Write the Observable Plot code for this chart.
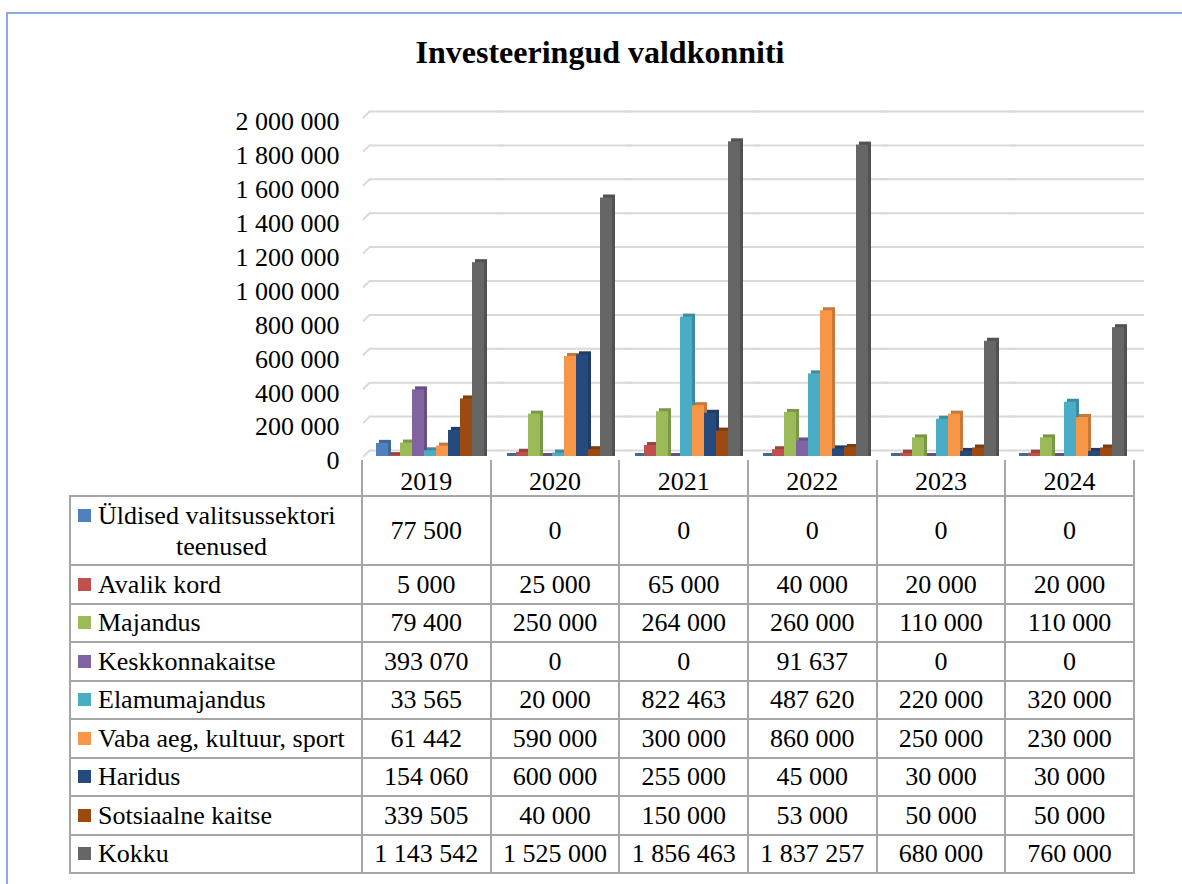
<!DOCTYPE html>
<html>
<head>
<meta charset="utf-8">
<script src="https://cdn.jsdelivr.net/npm/d3@7"></script>
<script src="https://cdn.jsdelivr.net/npm/@observablehq/plot@0.6"></script>
<style>
  html, body { margin: 0; padding: 0; background: #fff; width: 1182px; height: 884px; overflow: hidden; }
  body { position: relative; font-family: "Liberation Serif", "Times New Roman", serif; color: #000; }
  #frame { position: absolute; left: 6px; top: 12px; width: 1300px; height: 1000px;
           border-top: 2px solid #8eaadc; border-left: 2px solid #8eaadc; }
  #title { position: absolute; left: 0; top: 34px; width: 1200px; text-align: center;
           font-weight: bold; font-size: 32px; line-height: 36px; }
  #chart { position: absolute; left: 0; top: 90px; }
  #tbl { position: absolute; left: 69px; top: 460px; border-collapse: collapse; table-layout: fixed;
         font-family: "Liberation Serif", "Times New Roman", serif;
         font-size: 26px; line-height: 31px; z-index: 2; }
  #tbl td, #tbl th { border: 2px solid #a6a6a6; padding: 0; text-align: center; vertical-align: middle;
         font-weight: normal; white-space: nowrap; }
  #tbl th { height: 35px; border-top: none; }
  #tbl th span { position: relative; top: 4px; }
  #tbl th.blank { border: none; }
  #tbl td { height: 36.5px; }
  #tbl td.lab { text-align: left; padding-left: 7px; padding-right: 16px; white-space: normal; }
  #tbl tr.tall td { height: 67px; }
  .lw { display: flex; align-items: flex-start; }
  .lt { text-align: left; text-align-last: center; }
  .key { display: block; flex: none; width: 13px; height: 13px; margin-right: 7px; margin-top: 9px; }
</style>
</head>
<body>
<div id="frame"></div>
<div id="title">Investeeringud valdkonniti</div>
<div id="chart"></div>
<table id="tbl"></table>
<script>
// ---- data ----
const years = ["2019", "2020", "2021", "2022", "2023", "2024"];
const seriesNames = [
  "Üldised valitsussektori teenused",
  "Avalik kord",
  "Majandus",
  "Keskkonnakaitse",
  "Elamumajandus",
  "Vaba aeg, kultuur, sport",
  "Haridus",
  "Sotsiaalne kaitse",
  "Kokku"
];
const seriesColors = ["#4f81bd", "#c0504d", "#9bbb59", "#8064a2", "#4bacc6", "#f79646", "#254a7d", "#9c4a0f", "#666666"];
const yldised         = [77500, 0, 0, 0, 0, 0];
const avalikKord      = [5000, 25000, 65000, 40000, 20000, 20000];
const majandus        = [79400, 250000, 264000, 260000, 110000, 110000];
const keskkonnakaitse = [393070, 0, 0, 91637, 0, 0];
const elamumajandus   = [33565, 20000, 822463, 487620, 220000, 320000];
const vabaAeg         = [61442, 590000, 300000, 860000, 250000, 230000];
const haridus         = [154060, 600000, 255000, 45000, 30000, 30000];
const sotsiaalne      = [339505, 40000, 150000, 53000, 50000, 50000];
const kokku           = [1143542, 1525000, 1856463, 1837257, 680000, 760000];
const yTicks = [0, 200000, 400000, 600000, 800000, 1000000, 1200000, 1400000, 1600000, 1800000, 2000000];

const seriesValues = [yldised, avalikKord, majandus, keskkonnakaitse, elamumajandus, vabaAeg, haridus, sotsiaalne, kokku];

// ---- long table for Plot ----
const rows = [];
seriesNames.forEach((s, i) => years.forEach((y, j) => rows.push({ series: s, year: y, value: seriesValues[i][j] })));
const colorOf = Object.fromEntries(seriesNames.map((s, i) => [s, seriesColors[i]]));
const shadeOf = Object.fromEntries(seriesNames.map((s, i) => [s, d3.color(seriesColors[i]).darker(0.6).formatHex()]));
const fmt = v => d3.format(",")(v).replace(/,/g, " ");

// plain line shape for the perspective stubs of the gridlines
const stub = { draw(context, l) { context.moveTo(0, 0); context.lineTo(0, -l); } };

const chart = Plot.plot({
  width: 1182,
  height: 390,
  marginLeft: 361,
  marginRight: 49,
  marginTop: 27,
  marginBottom: 24,
  style: { fontFamily: "'Liberation Serif', 'Times New Roman', serif", fontSize: "26px", background: "transparent", color: "#000" },
  fx: { domain: years, padding: 0, axis: null },
  x: { domain: seriesNames, paddingInner: 0, paddingOuter: 0.75, align: 0.65, axis: null },
  y: { domain: [0, 2000000], axis: null },
  color: { type: "identity" },
  marks: [
    Plot.gridY(yTicks, { stroke: "#d9d9d9", strokeOpacity: 1, strokeWidth: 2, dx: 6, dy: -6, insetRight: -7 }),
    Plot.vector(yTicks, { fx: () => years[0], y: d => d, frameAnchor: "left", anchor: "start", length: 8.5, rotate: 45,
                          shape: stub, stroke: "#d9d9d9", strokeWidth: 2 }),
    Plot.barY(rows, { fx: "year", x: "series", y: "value", fill: d => shadeOf[d.series], dx: 3, dy: -3, insetBottom: -3 }),
    Plot.barY(rows, { fx: "year", x: "series", y: "value", fill: d => colorOf[d.series] }),
    Plot.axisY(yTicks, { tickFormat: fmt, tickSize: 0, tickPadding: 24, dy: 4.5, fontSize: 26, label: null })
  ]
});
document.getElementById("chart").appendChild(chart);

// ---- data table ----
const tbl = document.getElementById("tbl");
const colW = (1133 - 361) / years.length;
const cg = document.createElement("colgroup");
[292, ...years.map(() => colW)].forEach(w => { const c = document.createElement("col"); c.style.width = w + "px"; cg.appendChild(c); });
tbl.appendChild(cg);
const head = document.createElement("tr");
head.innerHTML = `<th class="blank"></th>` + years.map(y => `<th><span>${y}</span></th>`).join("");
tbl.appendChild(head);
seriesNames.forEach((s, i) => {
  const tr = document.createElement("tr");
  const lab = document.createElement("td");
  lab.className = "lab";
  lab.innerHTML = `<div class="lw"><span class="key" style="background:${seriesColors[i]}"></span><span class="lt">${s}</span></div>`;
  tr.appendChild(lab);
  seriesValues[i].forEach(v => { const td = document.createElement("td"); td.textContent = fmt(v); tr.appendChild(td); });
  tbl.appendChild(tr);
  if (lab.getBoundingClientRect().height > 50) tr.className = "tall";
});
</script>
</body>
</html>
